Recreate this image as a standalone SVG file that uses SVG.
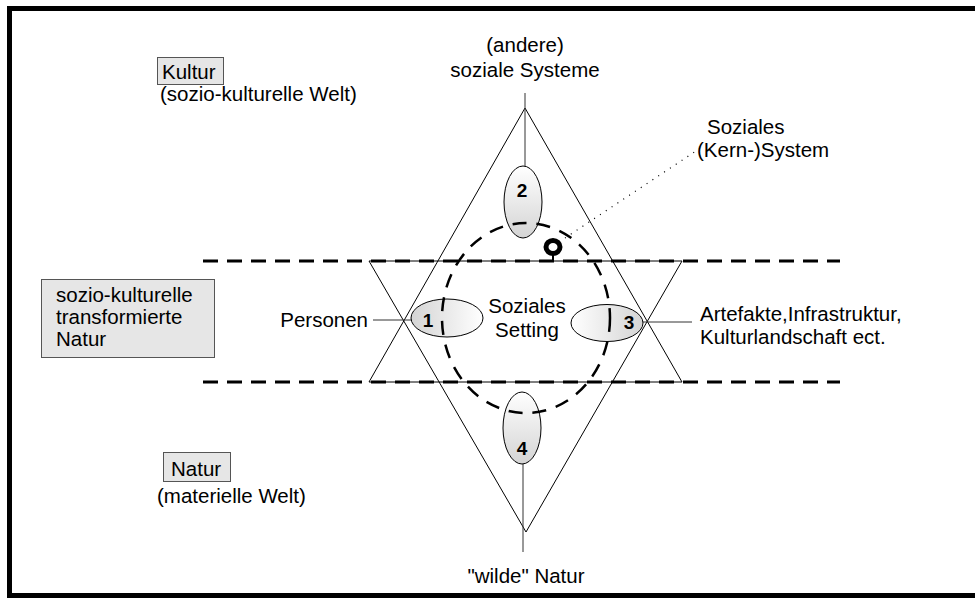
<svg xmlns="http://www.w3.org/2000/svg" width="975" height="598" viewBox="0 0 975 598">
<defs>
<style>
text{font-family:"Liberation Sans",Arial,sans-serif;font-size:20.5px;fill:#000}
.num{font-weight:bold;font-size:19px;text-anchor:middle}
.mid{text-anchor:middle}
.tri{fill:none;stroke:#000;stroke-width:1}
.thin{stroke:#333;stroke-width:1;fill:none}
.band{stroke:#000;stroke-width:3;stroke-dasharray:15 9;fill:none}
.box{fill:#e6e6e6;stroke:#555;stroke-width:1}
.ell{stroke:#000;stroke-width:1}
</style>
<linearGradient id="gv" x1="0" y1="0" x2="0" y2="1"><stop offset="0" stop-color="#ffffff"/><stop offset="1" stop-color="#d4d4d4"/></linearGradient>
<linearGradient id="gl" x1="0" y1="0" x2="1" y2="0"><stop offset="0" stop-color="#d4d4d4"/><stop offset="1" stop-color="#ffffff"/></linearGradient>
<linearGradient id="gr" x1="0" y1="0" x2="1" y2="0"><stop offset="0" stop-color="#ffffff"/><stop offset="1" stop-color="#d4d4d4"/></linearGradient>
</defs>
<rect x="0" y="0" width="975" height="598" fill="#fff"/>
<rect x="9.5" y="8.5" width="975" height="587" fill="none" stroke="#000" stroke-width="5"/>

<g id="connectors">
<polygon class="tri" points="525,108 369,382 682,382"/>
<polygon class="tri" points="369,261 682,261 526,532"/>
<line class="band" x1="203" y1="261" x2="840" y2="261"/>
<line class="band" x1="203" y1="382" x2="840" y2="382"/>
<line class="thin" x1="525" y1="93" x2="525" y2="166"/>
<line class="thin" x1="523" y1="464" x2="523" y2="552"/>
<line class="thin" x1="373" y1="320" x2="424" y2="320"/>
<line class="thin" x1="642" y1="322" x2="692" y2="322"/>
<line x1="565" y1="238" x2="702" y2="147" stroke="#000" stroke-width="1.2" stroke-dasharray="1 6"/>
</g>

<g id="node2"><ellipse class="ell" cx="523" cy="202" rx="19" ry="36" fill="url(#gv)"/><text class="num" x="522" y="197">2</text></g>
<g id="node4"><ellipse class="ell" cx="522" cy="428" rx="19" ry="36" fill="url(#gv)"/><text class="num" x="522" y="455">4</text></g>
<g id="node1"><ellipse class="ell" cx="447" cy="318" rx="36" ry="19" fill="url(#gl)"/><text class="num" x="428" y="327">1</text></g>
<g id="node3"><ellipse class="ell" cx="607" cy="323" rx="36" ry="18.5" fill="url(#gr)"/><text class="num" x="629" y="329">3</text></g>

<g id="setting">
<ellipse cx="526" cy="318" rx="84" ry="95" fill="none" stroke="#000" stroke-width="2.5" stroke-dasharray="14 10"/>
<text class="mid" x="527" y="313">Soziales</text>
<text class="mid" x="527" y="337">Setting</text>
</g>

<g id="kernsystem">
<ellipse cx="553" cy="247" rx="7" ry="6.5" fill="none" stroke="#000" stroke-width="5"/>
<line x1="553" y1="254" x2="553" y2="261" stroke="#000" stroke-width="2"/>
<text x="707" y="134">Soziales</text>
<text x="697" y="157">(Kern-)System</text>
</g>

<g id="top-label"><text class="mid" x="525" y="52">(andere)</text><text class="mid" x="525" y="77">soziale Systeme</text></g>
<g id="bottom-label"><text class="mid" x="526" y="583">"wilde" Natur</text></g>
<g id="personen"><text x="368" y="327" text-anchor="end">Personen</text></g>
<g id="artefakte"><text x="700" y="321">Artefakte,Infrastruktur,</text><text x="700" y="344">Kulturlandschaft ect.</text></g>

<g id="kultur">
<rect class="box" x="157.5" y="57.5" width="66" height="27"/>
<text x="162" y="79">Kultur</text>
<text x="160" y="101">(sozio-kulturelle Welt)</text>
</g>
<g id="transformiert">
<rect class="box" x="41.5" y="279.5" width="173" height="78"/>
<text x="56" y="302">sozio-kulturelle</text>
<text x="56" y="324">transformierte</text>
<text x="56" y="346">Natur</text>
</g>
<g id="natur">
<rect class="box" x="163.5" y="452.5" width="67" height="29"/>
<text x="171" y="476">Natur</text>
<text x="157" y="503">(materielle Welt)</text>
</g>
</svg>
